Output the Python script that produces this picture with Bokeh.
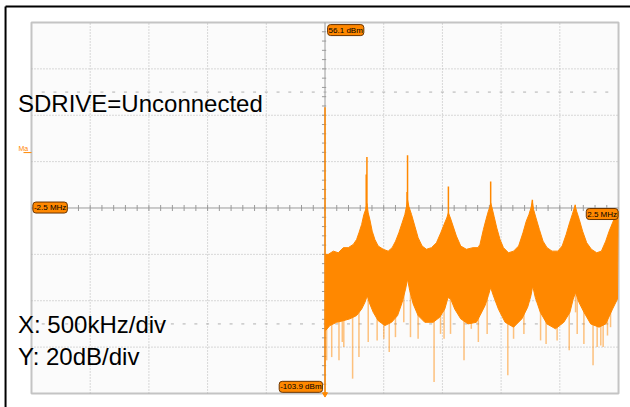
import numpy as np
from bokeh.plotting import figure
from bokeh.models import Range1d, Label
from bokeh.embed import file_html
from bokeh.resources import INLINE

# ---------------- data (MHz / dBm) ----------------
x_span = [-2.5, 2.5]          # MHz, 500 kHz/div
y_span = [-103.9, 56.1]       # dBm, 20 dB/div
x_div = 0.5
y_div = 20.0

upper_freq = [0.006, 0.028, 0.071, 0.113, 0.156, 0.198, 0.241, 0.269, 0.289, 0.312, 0.331, 0.346, 0.357,
              0.368, 0.382, 0.402, 0.425, 0.453, 0.496, 0.538, 0.572, 0.601, 0.629, 0.657, 0.680, 0.697, 0.703,
              0.714, 0.737, 0.765, 0.793, 0.827, 0.864, 0.907, 0.949, 0.986, 1.014, 1.037, 1.051,
              1.068, 1.091, 1.119, 1.156, 1.204, 1.261, 1.303, 1.320, 1.349, 1.371, 1.391, 1.406, 1.411,
              1.423, 1.440, 1.463, 1.491, 1.520, 1.563, 1.606, 1.649, 1.686, 1.714, 1.737, 1.754, 1.766,
              1.777, 1.797, 1.826, 1.857, 1.891, 1.934, 1.983, 2.020, 2.054, 2.083, 2.106, 2.123, 2.131,
              2.143, 2.166, 2.194, 2.229, 2.269, 2.314, 2.354, 2.391, 2.420, 2.449, 2.477, 2.497]
upper_dbm = [-43.9, -43.9, -42.5, -43.2, -41.0, -41.0, -39.6, -37.5, -34.6, -31.0, -26.7, -24.6, -22.0,
             -26.0, -28.9, -33.9, -37.5, -40.3, -41.7, -42.5, -41.0, -38.2, -34.6, -30.3, -26.7, -22.5, -20.3,
             -23.2, -26.7, -31.7, -36.7, -40.3, -41.7, -41.0, -38.9, -34.6, -31.0, -28.2, -26.0,
             -28.2, -31.7, -36.0, -40.3, -41.7, -41.0, -41.0, -39.6, -33.2, -28.9, -25.3, -23.2, -21.7,
             -23.9, -27.5, -32.5, -37.5, -41.0, -43.2, -42.5, -40.3, -34.6, -29.6, -26.7, -23.9, -21.0,
             -24.6, -28.2, -33.2, -38.2, -41.0, -42.5, -42.5, -40.3, -35.3, -30.3, -26.7, -23.9, -22.9,
             -25.3, -28.9, -33.9, -38.9, -41.7, -43.2, -42.5, -38.2, -33.9, -30.3, -26.7, -25.3]

lower_freq = [0.006, 0.042, 0.099, 0.156, 0.212, 0.269, 0.312, 0.340, 0.360, 0.382, 0.411, 0.453,
              0.510, 0.567, 0.618, 0.657, 0.686, 0.703, 0.722, 0.751, 0.793, 0.850,
              0.921, 0.977, 1.020, 1.048, 1.071, 1.105, 1.156, 1.218, 1.289, 1.320,
              1.363, 1.391, 1.411, 1.434, 1.477, 1.534, 1.606, 1.677, 1.726, 1.754,
              1.769, 1.791, 1.834, 1.891, 1.963, 2.034, 2.086, 2.114, 2.134, 2.163,
              2.206, 2.263, 2.334, 2.391, 2.449, 2.491]
lower_dbm = [-76.7, -74.6, -73.2, -72.5, -71.7, -70.3, -67.5, -64.6, -61.7, -65.3, -68.9, -72.5,
             -74.6, -73.2, -70.3, -64.6, -58.9, -54.6, -59.6, -65.3, -70.3, -73.2,
             -73.2, -71.0, -67.5, -62.5, -63.2, -67.5, -71.7, -73.9, -73.2, -70.3,
             -66.0, -61.7, -58.2, -61.7, -67.5, -73.2, -75.3, -71.7, -66.7, -61.7,
             -57.5, -62.5, -68.9, -73.9, -76.0, -73.2, -68.9, -63.2, -60.3, -64.6,
             -68.9, -73.9, -75.3, -73.9, -67.5, -63.2]

dip_freq = [0.014, 0.057, 0.119, 0.147, 0.160, 0.235, 0.289, 0.368, 0.444, 0.501,
            0.547, 0.600, 0.671, 0.728, 0.793, 0.929, 0.984, 1.014, 1.069, 1.184,
            1.246, 1.306, 1.381, 1.557, 1.606, 1.694, 1.836, 1.883, 1.977, 2.080,
            2.134, 2.148, 2.205, 2.283, 2.318, 2.349, 2.369, 2.406, 2.432]
dip_dbm = [-89.6, -88.2, -89.6, -81.7, -83.9, -97.5, -88.2, -81.7, -81.0, -80.3,
           -86.0, -79.6, -73.2, -79.6, -80.3, -98.9, -78.2, -80.3, -78.2, -89.6,
           -76.0, -81.7, -78.2, -96.0, -80.3, -78.2, -81.0, -82.5, -81.0, -85.3,
           -68.9, -78.2, -82.5, -91.7, -83.9, -83.2, -83.9, -78.9, -75.3]

peak_freq = [0.357, 0.351, 0.703, 0.699, 1.051, 1.411, 1.766, 2.131]
peak_dbm = [-1.9, -9.5, -1.2, -17.0, -14.6, -12.5, -20.3, -22.5]

dc_freq = 0.0
dc_dbm = 19.5

note_lines = ["SDRIVE=Unconnected", "X: 500kHz/div", "Y: 20dB/div"]
marker_texts = ["56.1 dBm", "-2.5 MHz", "2.5 MHz", "-103.9 dBm"]

ORANGE = "#ff8800"
FONT = "Liberation Sans"

# ---------------- figure ----------------
p = figure(width=630, height=407, output_backend="svg", toolbar_location=None,
           x_range=Range1d(-2.764, 2.602), y_range=Range1d(-109.94, 65.59),
           x_axis_location=None, y_axis_location=None, min_border=0,
           outline_line_color=None, background_fill_color="white",
           border_fill_color="white")
p.xgrid.visible = False
p.ygrid.visible = False

x0, x1 = x_span
y0, y1 = y_span
xc = (x0 + x1) / 2
yc = (y0 + y1) / 2

# screenshot frame: black line on top and left only
p.segment(x0=[-2.721], y0=[63.0], x1=[2.61], y1=[63.0], line_color="black", line_width=2)
p.segment(x0=[-2.721], y0=[63.0], x1=[-2.721], y1=[-111.0], line_color="black", line_width=2)

# graticule
p.quad(left=[x0], right=[x1], bottom=[y0], top=[y1],
       fill_color="#fbfbfb", line_color="#c4c4c4", line_width=2)
vx = [x0 + k * x_div for k in range(1, 10) if k != 5]
hy = [y0 + k * y_div for k in range(1, 8) if k != 4]
p.segment(x0=vx, y0=[y0] * len(vx), x1=vx, y1=[y1] * len(vx),
          line_color="#b4b4b4", line_width=1, line_dash="1 2")
p.segment(x0=[x0] * len(hy), y0=hy, x1=[x1] * len(hy), y1=hy,
          line_color="#b4b4b4", line_width=1, line_dash="1 2")

# half-division dotted rows (+/- 2.5 div)
minor_x = [x0 + k * x_div / 5 for k in range(1, 50)]
for yy in [yc + 2.5 * y_div, yc - 2.5 * y_div]:
    p.scatter(x=minor_x, y=[yy] * len(minor_x), marker="dash", size=3,
              line_color="#b0b0b0", line_width=1)

# center axes with minor ticks
p.segment(x0=[x0], y0=[yc], x1=[x1], y1=[yc], line_color="#9a9a9a", line_width=1)
p.segment(x0=[xc], y0=[y0], x1=[xc], y1=[y1], line_color="#9a9a9a", line_width=1)
tx = [x0 + k * x_div / 5 for k in range(1, 50)]
p.segment(x0=tx, y0=[yc - 1.3] * len(tx), x1=tx, y1=[yc + 1.3] * len(tx),
          line_color="#9a9a9a", line_width=1)
ty = [y0 + k * y_div / 5 for k in range(1, 40)]
p.segment(x0=[xc - 0.026] * len(ty), y0=ty, x1=[xc + 0.01] * len(ty), y1=ty,
          line_color="#9a9a9a", line_width=1)

# ---------------- spectrum ----------------
# light downward noise spikes
p.segment(x0=dip_freq, y0=[-58.0] * len(dip_freq), x1=dip_freq, y1=dip_dbm,
          line_color=ORANGE, line_alpha=0.5, line_width=1.5)
# upward spikes at harmonics
p.segment(x0=peak_freq, y0=[-30.0] * len(peak_freq), x1=peak_freq, y1=peak_dbm,
          line_color=ORANGE, line_width=1.5)
# dense noise band
band_x = list(upper_freq) + list(lower_freq[::-1])
band_y = list(upper_dbm) + list(lower_dbm[::-1])
p.patch(x=band_x, y=band_y, fill_color=ORANGE, line_color=ORANGE, line_width=1)
# DC line
p.segment(x0=[dc_freq], y0=[y0 - 0.6], x1=[dc_freq], y1=[dc_dbm],
          line_color=ORANGE, line_width=1.5)
p.scatter(x=[dc_freq], y=[y0 - 0.3], marker="inverted_triangle", size=5,
          fill_color=ORANGE, line_color=ORANGE)

# ---------------- marker labels ----------------
def tag(x, y, text, align, baseline):
    p.add_layout(Label(x=x, y=y, text=text, text_font=FONT, text_font_size="8px",
                       text_color="black", text_align=align, text_baseline=baseline,
                       background_fill_color=ORANGE, border_line_color="#6a3400",
                       border_line_width=1, border_radius=3, padding=1))

tag(0.022, 55.2, marker_texts[0], "left", "top")
tag(x0 + 0.012, yc + 0.2, marker_texts[1], "left", "middle")
tag(x1 - 0.004, -26.5, marker_texts[2], "right", "middle")
tag(-0.021, y0 + 0.5, marker_texts[3], "right", "bottom")

# math marker "Ma"
p.add_layout(Label(x=-2.611, y=1.6, text="Ma", text_font=FONT, text_font_size="7px",
                   text_color=ORANGE, text_align="left", text_baseline="alphabetic"))
p.segment(x0=[-2.568], y0=[0.0], x1=[x0], y1=[0.0], line_color=ORANGE, line_width=1)

# ---------------- annotation texts ----------------
for txt, yy in zip(note_lines, [21.2, -74.2, -87.9]):
    p.add_layout(Label(x=-2.615, y=yy, text=txt, text_font=FONT, text_font_size="24px",
                       text_color="black", text_align="left", text_baseline="alphabetic"))

open("out.html", "w").write(file_html(p, INLINE))
